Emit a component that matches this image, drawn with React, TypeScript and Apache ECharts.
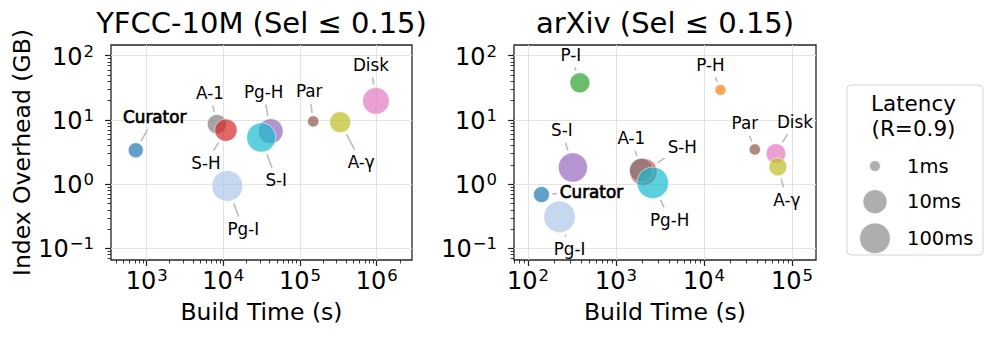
import React, { useEffect, useRef } from 'react';
import * as echarts from 'echarts';

const FONT = '"DejaVu Sans", sans-serif';

// ---- Left panel: YFCC-10M (Sel <= 0.15) ----
const yfccMethods = ['Curator', 'A-1', 'S-H', 'Pg-H', 'S-I', 'Pg-I', 'Par', 'Disk', 'A-γ'];
const yfccBuildTimeS = [720, 8260, 10800, 41400, 31200, 11250, 148600, 977000, 334000];
const yfccIndexGB = [3.38, 8.6, 6.93, 6.69, 5.34, 0.94, 9.5, 19.8, 9.24];
const yfccLatencyMs = [2.1, 4.4, 7.5, 14, 61, 110, 1.1, 25, 5.9];

// ---- Right panel: arXiv (Sel <= 0.15) ----
const arxivMethods = ['Curator', 'S-H', 'A-1', 'S-I', 'Pg-H', 'Pg-I', 'P-I', 'P-H', 'Par', 'Disk', 'A-γ'];
const arxivBuildTimeS = [142, 2040, 1940, 323, 2610, 228, 388, 15400, 37800, 65700, 69200];
const arxivIndexGB = [0.69, 1.56, 1.65, 1.82, 1.05, 0.31, 37.8, 29.4, 3.47, 3.0, 1.86];
const arxivLatencyMs = [2.5, 31, 10, 61, 140, 140, 5, 1.05, 1.1, 4.7, 3.5];

// ---- Legend (size key) ----
const legendLatencies = [1, 10, 100];
const legendLabels = ['1ms', '10ms', '100ms'];

// ---- Styles / layout (not data) ----
const yfccColors = ['#1f77b4', '#7f7f7f', '#d62728', '#9467bd', '#17becf', '#aec7e8', '#8c564b', '#e377c2', '#bcbd22'];
const arxivColors = ['#1f77b4', '#d62728', '#7f7f7f', '#9467bd', '#17becf', '#aec7e8', '#2ca02c', '#ff7f0e', '#8c564b', '#e377c2', '#bcbd22'];
const yfccLabelOffsets = [[19, -33], [-7, -31], [-20, 33], [-7, -39], [15, 43], [16, 43], [-4, -30], [-5, -36], [21, 40]];
const arxivLabelOffsets = [[50, -3], [39, -25], [-10, -32], [-11, -37], [17, 37], [10, 32], [-9, -28], [-10, -25], [-10, -26], [19, -32], [9, 33]];
const boldLabels = ['Curator'];

const LABEL_FS = 16.8;
const TICK_FS = 24;
const NAME_FS = 23.5;
const TITLE_FS = 29;

// symbol diameter (px) as a function of latency: piecewise in log10(latency)
function diameter(latMs: number): number {
  const L = Math.log10(latMs);
  if (L <= 1) return 10.7 + 13.3 * L;
  return 24 + 6.7 * (L - 1);
}

let measureCtx: CanvasRenderingContext2D | null = null;
function textWidth(t: string, fs: number): number {
  if (!measureCtx) measureCtx = document.createElement('canvas').getContext('2d');
  if (!measureCtx) return t.length * fs * 0.6;
  measureCtx.font = `${fs}px "DejaVu Sans"`;
  return measureCtx.measureText(t).width;
}

function minorTicks(min: number, max: number): number[] {
  const out: number[] = [];
  for (let n = Math.floor(min) - 1; n <= Math.ceil(max); n++) {
    for (let k = 2; k <= 9; k++) {
      const v = n + Math.log10(k);
      if (v >= min && v <= max) out.push(v);
    }
  }
  return out;
}

function majorTicks(min: number, max: number): number[] {
  const out: number[] = [];
  for (let n = Math.ceil(min); n <= Math.floor(max); n++) out.push(n);
  return out;
}

const supFmt = (v: number) => {
  const e = Math.round(v);
  return `{b|10}{s|${e < 0 ? '\u2212' : ''}${Math.abs(e)}}`;
};

const rich = {
  b: { fontSize: TICK_FS, fontFamily: FONT, color: '#000', verticalAlign: 'bottom' },
  s: { fontSize: 16.5, fontFamily: FONT, color: '#000', verticalAlign: 'top', padding: [0, 0, 9, 1] },
};

const tickLine = { color: '#222', width: 1.2 };

function mainAxis(gridIndex: number, min: number, max: number, isX: boolean, name: string | null) {
  const major = majorTicks(min, max);
  const ax: any = {
    type: 'value',
    gridIndex,
    min,
    max,
    position: isX ? 'bottom' : 'left',
    axisLine: { show: false, onZero: false },
    axisTick: { show: true, customValues: major, length: 6, lineStyle: tickLine },
    axisLabel: {
      show: true,
      customValues: major,
      formatter: supFmt,
      rich,
      margin: isX ? 7 : 17,
    },
    splitLine: { show: true, lineStyle: { color: '#e3e3e3', width: 1 } },
  };
  if (name) {
    ax.name = name;
    ax.nameLocation = 'middle';
    ax.nameGap = isX ? 40 : 73;
    ax.nameTextStyle = { fontSize: NAME_FS, fontFamily: FONT, color: '#000' };
  }
  return ax;
}

function minorAxis(gridIndex: number, min: number, max: number, isX: boolean) {
  return {
    type: 'value',
    gridIndex,
    min,
    max,
    position: isX ? 'bottom' : 'left',
    axisLine: { show: false, onZero: false },
    axisLabel: { show: false },
    splitLine: { show: false },
    axisTick: { show: true, customValues: minorTicks(min, max), length: 3.5, lineStyle: { color: '#222', width: 0.9 } },
  };
}

function makeRender(methods: string[], colors: string[], offsets: number[][]) {
  return (params: any, api: any) => {
    const i = params.dataIndex;
    const p = api.coord([api.value(0), api.value(1)]);
    const r = diameter(api.value(2)) / 2;
    const [dx, dy] = offsets[i];
    const lx = p[0] + dx;
    const ly = p[1] + dy;
    const len = Math.hypot(dx, dy) || 1;
    const ux = dx / len;
    const uy = dy / len;
    const sx = p[0] + ux * (r + 3);
    const sy = p[1] + uy * (r + 3);
    const w = textWidth(methods[i], LABEL_FS);
    const hw = w / 2 + 3;
    const hh = LABEL_FS * 0.5 + 4;
    const tx = Math.abs(ux) > 1e-6 ? hw / Math.abs(ux) : Infinity;
    const ty = Math.abs(uy) > 1e-6 ? hh / Math.abs(uy) : Infinity;
    const t = Math.min(tx, ty);
    const ex = lx - ux * t;
    const ey = ly - uy * t;
    const children: any[] = [];
    if ((ex - sx) * ux + (ey - sy) * uy > 1) {
      children.push({
        type: 'line',
        shape: { x1: sx, y1: sy, x2: ex, y2: ey },
        style: { stroke: '#bdbdbd', lineWidth: 1.6 },
      });
    }
    children.push({
      type: 'circle',
      shape: { cx: p[0], cy: p[1], r },
      style: { fill: colors[i], stroke: '#ffffff', lineWidth: 0.8, opacity: 0.7 },
    });
    const bold = boldLabels.indexOf(methods[i]) >= 0;
    children.push({
      type: 'text',
      x: lx,
      y: ly,
      style: {
        text: methods[i],
        fill: '#000',
        fontSize: LABEL_FS,
        fontFamily: FONT,
        align: 'center',
        verticalAlign: 'middle',
        stroke: bold ? '#000' : undefined,
        lineWidth: bold ? 0.7 : 0,
      },
    });
    return { type: 'group', children };
  };
}

const Y_MIN = -1.18;
const Y_MAX = 2.167;
const XL_MIN = 2.535;
const XL_MAX = 6.46;
const XR_MIN = 1.84;
const XR_MAX = 5.273;

export default function App() {
  const ref = useRef<HTMLDivElement>(null);
  useEffect(() => {
    if (!ref.current) return;
    const chart = echarts.init(ref.current, undefined, { renderer: 'svg' });

    const yfccData = yfccMethods.map((m, i) => [Math.log10(yfccBuildTimeS[i]), Math.log10(yfccIndexGB[i]), yfccLatencyMs[i]]);
    const arxivData = arxivMethods.map((m, i) => [Math.log10(arxivBuildTimeS[i]), Math.log10(arxivIndexGB[i]), arxivLatencyMs[i]]);

    const legendX = 875;
    const legendYs = [166, 201.7, 238.3];
    const legendGraphics: any[] = [
      { type: 'rect', shape: { x: 847, y: 85, width: 136, height: 170, r: 4 }, style: { fill: '#fff', stroke: '#d4d4d4', lineWidth: 1 }, z: 10 },
      { type: 'text', x: 913.5, y: 103.5, style: { text: 'Latency', fontSize: 21.5, fontFamily: FONT, fill: '#000', align: 'center', verticalAlign: 'middle' }, z: 11 },
      { type: 'text', x: 913.5, y: 128.5, style: { text: '(R=0.9)', fontSize: 21.5, fontFamily: FONT, fill: '#000', align: 'center', verticalAlign: 'middle' }, z: 11 },
    ];
    legendLatencies.forEach((lat, k) => {
      legendGraphics.push({
        type: 'circle',
        shape: { cx: legendX, cy: legendYs[k], r: diameter(lat) / 2 },
        style: { fill: '#8c8c8c', stroke: '#fff', lineWidth: 0.8, opacity: 0.7 },
        z: 11,
      });
      legendGraphics.push({
        type: 'text',
        x: 907,
        y: legendYs[k],
        style: { text: legendLabels[k], fontSize: 19.5, fontFamily: FONT, fill: '#000', align: 'left', verticalAlign: 'middle' },
        z: 11,
      });
    });

    const option: any = {
      animation: false,
      backgroundColor: '#fff',
      textStyle: { fontFamily: FONT },
      grid: [
        { left: 111, top: 45, width: 301, height: 215, show: true, borderColor: '#262626', borderWidth: 1.3, backgroundColor: 'transparent' },
        { left: 514, top: 45, width: 302, height: 215, show: true, borderColor: '#262626', borderWidth: 1.3, backgroundColor: 'transparent' },
      ],
      xAxis: [
        mainAxis(0, XL_MIN, XL_MAX, true, 'Build Time (s)'),
        minorAxis(0, XL_MIN, XL_MAX, true),
        mainAxis(1, XR_MIN, XR_MAX, true, 'Build Time (s)'),
        minorAxis(1, XR_MIN, XR_MAX, true),
      ],
      yAxis: [
        mainAxis(0, Y_MIN, Y_MAX, false, 'Index Overhead (GB)'),
        minorAxis(0, Y_MIN, Y_MAX, false),
        mainAxis(1, Y_MIN, Y_MAX, false, null),
        minorAxis(1, Y_MIN, Y_MAX, false),
      ],
      graphic: [
        { type: 'text', x: 261.5, y: 23, style: { text: 'YFCC-10M (Sel ≤ 0.15)', fontSize: TITLE_FS, fontFamily: FONT, fill: '#000', align: 'center', verticalAlign: 'middle' } },
        { type: 'text', x: 665, y: 23, style: { text: 'arXiv (Sel ≤ 0.15)', fontSize: TITLE_FS, fontFamily: FONT, fill: '#000', align: 'center', verticalAlign: 'middle' } },
        ...legendGraphics,
      ],
      series: [
        {
          type: 'custom',
          name: 'YFCC-10M',
          coordinateSystem: 'cartesian2d',
          xAxisIndex: 0,
          yAxisIndex: 0,
          data: yfccData,
          renderItem: makeRender(yfccMethods, yfccColors, yfccLabelOffsets),
          z: 5,
        },
        {
          type: 'custom',
          name: 'arXiv',
          coordinateSystem: 'cartesian2d',
          xAxisIndex: 2,
          yAxisIndex: 2,
          data: arxivData,
          renderItem: makeRender(arxivMethods, arxivColors, arxivLabelOffsets),
          z: 5,
        },
      ],
    };
    chart.setOption(option);
    return () => chart.dispose();
  }, []);
  return <div ref={ref} style={{ position: 'absolute', left: 0, top: 0, width: 996, height: 338 }} />;
}
